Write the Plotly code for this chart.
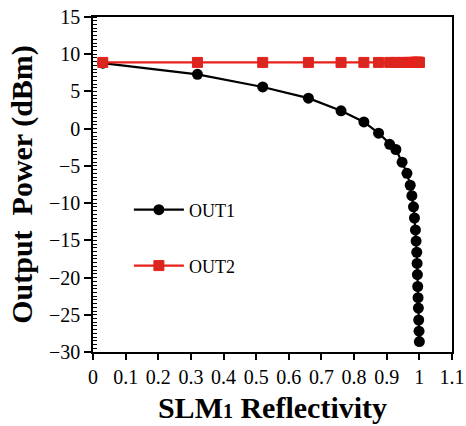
import plotly.graph_objects as go

# SLM1 reflectivity sweep
reflectivity = [0.03, 0.32, 0.52, 0.66, 0.76, 0.83, 0.875, 0.909, 0.928, 0.947,
                0.962, 0.972, 0.977, 0.982, 0.985, 0.988, 0.990, 0.992, 0.993,
                0.994, 0.995, 0.996, 0.997, 0.998, 0.999, 1.0]
out1_dbm = [8.8, 7.3, 5.6, 4.1, 2.4, 0.9, -0.6, -2.1, -2.8, -4.5,
            -6.0, -7.6, -9.0, -10.5, -12.0, -13.6, -15.1, -16.6, -18.1,
            -19.6, -21.2, -22.7, -24.1, -25.7, -27.2, -28.6]
out2_dbm = [8.9] * len(reflectivity)

x_ticks = [0, 0.1, 0.2, 0.3, 0.4, 0.5, 0.6, 0.7, 0.8, 0.9, 1.0, 1.1]
x_tick_text = ["0", "0.1", "0.2", "0.3", "0.4", "0.5", "0.6", "0.7", "0.8", "0.9", "1", "1.1"]

serif = "Liberation Serif, Times New Roman, serif"

fig = go.Figure()
fig.add_trace(go.Scatter(
    x=reflectivity, y=out1_dbm, name="OUT1", mode="lines+markers",
    line=dict(color="black", width=2.2),
    marker=dict(symbol="circle", size=11, color="black"),
    legend="legend",
))
fig.add_trace(go.Scatter(
    x=reflectivity, y=out2_dbm, name="OUT2", mode="lines+markers",
    line=dict(color="#e8201c", width=2.2),
    marker=dict(symbol="square", size=10, color="#d9261f",
                line=dict(color="#e8201c", width=1)),
    legend="legend2",
))

legend_style = dict(
    bgcolor="rgba(0,0,0,0)", font=dict(family=serif, size=18, color="black"),
    xanchor="left", yanchor="middle", itemwidth=50,
)

fig.update_layout(
    width=466, height=426,
    margin=dict(l=93, r=14, t=17, b=74, autoexpand=False),
    plot_bgcolor="white", paper_bgcolor="white",
    font=dict(family=serif, color="black"),
    showlegend=True,
    legend=dict(x=0.1, y=0.424, **legend_style),
    legend2=dict(x=0.1, y=0.257, **legend_style),
    xaxis=dict(
        range=[0, 1.1], tickvals=x_ticks, ticktext=x_tick_text,
        ticks="outside", ticklen=6, tickwidth=1.5, tickcolor="black",
        showline=True, linecolor="black", linewidth=1.5, mirror=True,
        showgrid=False, zeroline=False, automargin=False,
        tickfont=dict(family=serif, size=20),
        title=dict(text="<b>SLM<span style='font-size:20px'>1</span> Reflectivity</b>",
                   font=dict(family=serif, size=30), standoff=10),
    ),
    yaxis=dict(
        range=[-30, 15], dtick=5,
        ticks="outside", ticklen=7, tickwidth=1.5, tickcolor="black",
        minor=dict(dtick=0.5, ticks="inside", ticklen=4, tickcolor="black", tickwidth=1),
        showline=True, linecolor="black", linewidth=1.5, mirror=True,
        showgrid=False, zeroline=False, automargin=False,
        tickfont=dict(family=serif, size=20),
        title=dict(text="<b>Output  Power (dBm)</b>",
                   font=dict(family=serif, size=30), standoff=7),
    ),
)

fig.write_html("out.html")
